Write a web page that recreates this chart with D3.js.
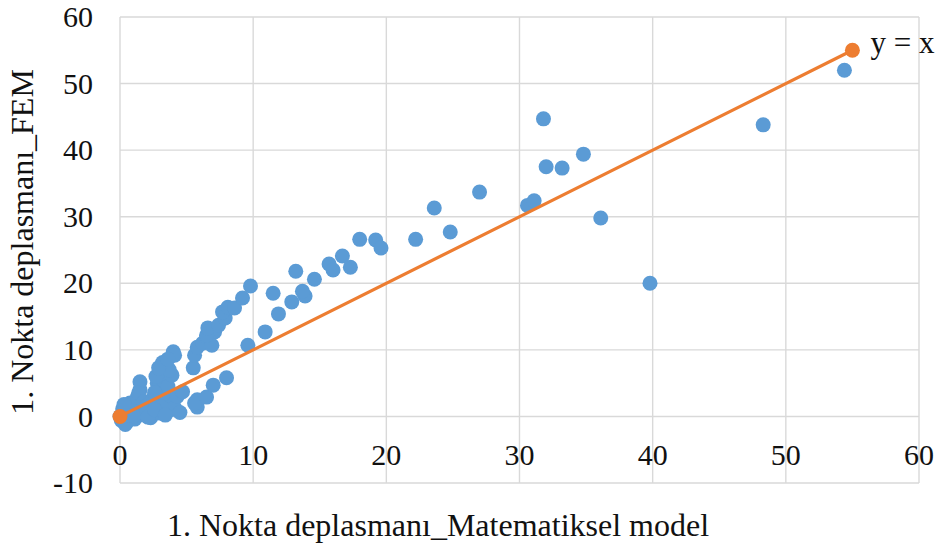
<!DOCTYPE html>
<html>
<head>
<meta charset="utf-8">
<script src="https://cdn.jsdelivr.net/npm/d3@7"></script>
<style>
  html, body { margin: 0; padding: 0; background: #fff; }
  svg { display: block; }
</style>
</head>
<body>
<svg id="chart" width="945" height="552"></svg>
<script>
// Data: FEM vs mathematical model displacement (point 1)
const modelValues = [
  0, 0.1, 0.3, 0.5, 0.6, 0.2, 0.8, 1.0, 0.9, 0.75, 1.2, 1.4, 1.6, 1.3, 1.5, 1.5, 1.4, 1.8, 2.0, 2.2,
  2.3, 2.3, 2.5, 2.8, 2.8, 3.0, 3.2, 3.0, 3.4, 3.5, 3.8, 3.3, 3.6, 3.9, 3.2, 3.7, 2.7, 2.9, 4.0, 4.1,
  4.3, 4.7, 5.5, 5.6, 5.8, 6.2, 6.5, 7.1, 5.8, 5.8, 5.6, 6.5, 7.0, 8.0, 4.5, 3.1, 2.6, 4.1, 3.6, 1.1,
  0.4, 0.7, 1.9, 2.1, 1.0, 2.6, 3.4, 0.3,
  6.9, 6.5, 6.6, 7.4, 7.9, 7.7, 8.1, 8.6, 9.2, 9.8, 9.6, 10.9, 11.9, 11.5, 12.9, 13.9, 13.7, 14.6, 13.2, 15.7,
  16.0, 16.7, 17.3, 18.0, 19.2, 19.6, 22.2, 23.6, 24.8, 27.0, 30.6, 31.1, 31.8, 32.0, 33.2, 34.8, 36.1, 39.8, 48.3, 54.4
];
const femValues = [
  0, -0.6, 0.4, -0.9, 0.9, 1.1, -0.3, 0.5, 1.5, 2.0, 1.2, 0.2, 1.0, 2.9, 4.0, 5.2, 3.5, 2.2, 1.6, 0.7,
  -0.2, 1.4, 2.8, 2.0, 5.0, 6.5, 5.5, 0.5, 7.7, 2.5, 1.0, 3.5, 4.5, 6.2, 8.1, 7.0, 6.0, 7.3, 9.7, 1.3,
  3.0, 3.7, 7.3, 9.2, 10.4, 11.0, 11.9, 12.7, 2.5, 1.4, 2.0, 2.9, 4.7, 5.8, 0.6, 1.4, 3.6, 9.2, 8.6, -0.4,
  -1.2, 0.2, 0.3, -0.1, 0.1, 1.0, 0.2, 1.8,
  10.7, 12.2, 13.3, 13.7, 14.8, 15.7, 16.4, 16.3, 17.8, 19.6, 10.7, 12.7, 15.4, 18.5, 17.2, 18.1, 18.8, 20.6, 21.8, 22.9,
  22.0, 24.1, 22.4, 26.6, 26.5, 25.3, 26.6, 31.3, 27.7, 33.7, 31.7, 32.4, 44.7, 37.5, 37.3, 39.4, 29.8, 20.0, 43.8, 52.0
];
const identityX = [0, 55];
const identityY = [0, 55];
const identityLabel = "y = x";
const xTicks = [0, 10, 20, 30, 40, 50, 60];
const yTicks = [-10, 0, 10, 20, 30, 40, 50, 60];
const xTitle = "1. Nokta deplasmanı_Matematiksel model";
const yTitle = "1. Nokta deplasmanı_FEM";

const FONT = "'Liberation Serif', 'Times New Roman', Times, serif";
const svg = d3.select("#chart");
const x = d3.scaleLinear().domain([0, 60]).range([120, 919]);
const y = d3.scaleLinear().domain([-10, 60]).range([483, 17]);

const grid = "#d9d9d9";
// gridlines
svg.append("g").selectAll("line").data(xTicks).join("line")
  .attr("x1", d => x(d)).attr("x2", d => x(d))
  .attr("y1", y(60)).attr("y2", y(-10))
  .attr("stroke", grid).attr("stroke-width", 1.4);
svg.append("g").selectAll("line").data(yTicks).join("line")
  .attr("x1", x(0)).attr("x2", x(60))
  .attr("y1", d => y(d)).attr("y2", d => y(d))
  .attr("stroke", grid).attr("stroke-width", 1.4);

// tick labels
svg.append("g").selectAll("text").data(yTicks).join("text")
  .attr("x", 93).attr("y", d => y(d))
  .attr("dy", "0.34em")
  .attr("text-anchor", "end")
  .attr("font-family", FONT).attr("font-size", 30).attr("fill", "#111")
  .text(d => d);
svg.append("g").selectAll("text").data(xTicks).join("text")
  .attr("x", d => x(d)).attr("y", 465)
  .attr("text-anchor", "middle")
  .attr("font-family", FONT).attr("font-size", 30).attr("fill", "#111")
  .text(d => d);

// axis titles
svg.append("text")
  .attr("x", 438).attr("y", 536)
  .attr("text-anchor", "middle")
  .attr("font-family", FONT).attr("font-size", 32).attr("fill", "#111")
  .text(xTitle);
svg.append("text")
  .attr("transform", "translate(33,242) rotate(-90)")
  .attr("text-anchor", "middle")
  .attr("font-family", FONT).attr("font-size", 32).attr("fill", "#111")
  .text(yTitle);

// scatter points
const pts = modelValues.map((v, i) => ({ x: v, y: femValues[i] }));
svg.append("g").selectAll("circle").data(pts).join("circle")
  .attr("cx", d => x(d.x)).attr("cy", d => y(d.y))
  .attr("r", 7.5).attr("fill", "#5B9BD5");

// y = x line
const idPts = identityX.map((v, i) => ({ x: v, y: identityY[i] }));
svg.append("path")
  .datum(idPts)
  .attr("d", d3.line().x(d => x(d.x)).y(d => y(d.y)))
  .attr("fill", "none").attr("stroke", "#ED7D31").attr("stroke-width", 3.2);
svg.append("g").selectAll("circle").data(idPts).join("circle")
  .attr("cx", d => x(d.x)).attr("cy", d => y(d.y))
  .attr("r", 7.5).attr("fill", "#ED7D31");
svg.append("text")
  .attr("x", x(identityX[1]) + 18).attr("y", y(identityY[1]) + 3)
  .attr("font-family", FONT).attr("font-size", 31).attr("fill", "#111")
  .text(identityLabel);
</script>
</body>
</html>
